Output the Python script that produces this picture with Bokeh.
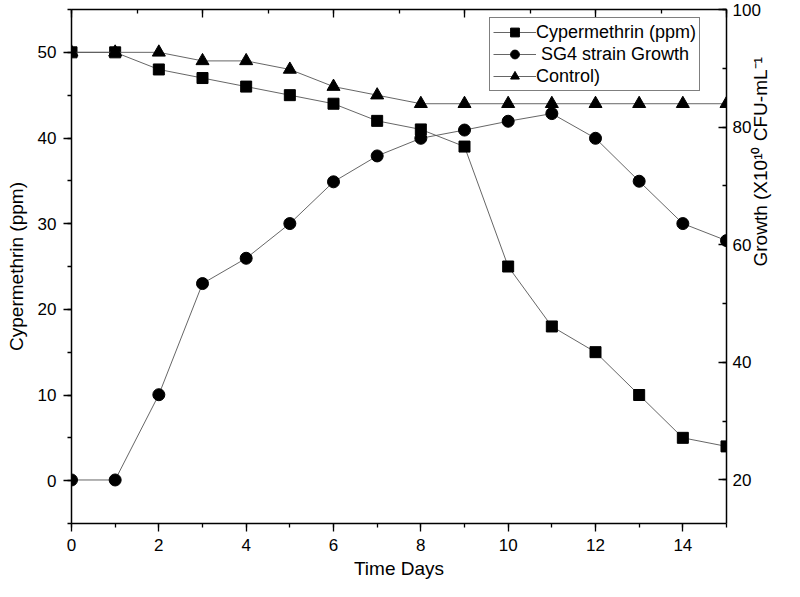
import math
from bokeh.plotting import figure
from bokeh.models import Range1d, LinearAxis, SingleIntervalTicker, Legend, LegendItem
from bokeh.embed import file_html
from bokeh.resources import INLINE

days = list(range(16))
cypermethrin = [50, 50, 48, 47, 46, 45, 44, 42, 41, 39, 25, 18, 15, 10, 5, 4]
control = [50, 50, 50, 49, 49, 48, 46, 45, 44, 44, 44, 44, 44, 44, 44, 44]
growth = [20, 20, 34.5, 53.4, 57.7, 63.6, 70.7, 75.1, 78.1, 79.5, 81.0, 82.3, 78.1, 70.8, 63.6, 60.7]

FONT = "Liberation Sans"

p = figure(width=784, height=581, output_backend="svg", toolbar_location=None,
           x_range=Range1d(0, 15), y_range=Range1d(-5, 55),
           min_border_left=71, min_border_right=0, min_border_top=9, min_border_bottom=0)
p.extra_y_ranges = {"growth": Range1d(12.6, 100)}
p.xgrid.visible = False
p.ygrid.visible = False
p.outline_line_color = None
p.background_fill_color = "white"
p.border_fill_color = "white"

def style_axis(ax, inward=False):
    ax.axis_line_color = "black"
    ax.axis_line_width = 1.5
    ax.major_tick_line_color = "black"
    ax.minor_tick_line_color = "black"
    ax.major_tick_line_width = 1.3
    ax.minor_tick_line_width = 1.3
    if inward:
        ax.major_tick_out = 0
        ax.major_tick_in = 8
        ax.minor_tick_out = 0
        ax.minor_tick_in = 4
    else:
        ax.major_tick_out = 8
        ax.major_tick_in = 0
        ax.minor_tick_out = 4
        ax.minor_tick_in = 0
    ax.major_label_text_font = FONT
    ax.major_label_text_font_size = "17px"
    ax.major_label_text_color = "black"
    ax.axis_label_text_font = FONT
    ax.axis_label_text_font_size = "19px"
    ax.axis_label_text_font_style = "normal"
    ax.axis_label_text_color = "black"
    ax.major_label_standoff = 7

xa = p.xaxis[0]
xa.ticker = SingleIntervalTicker(interval=2, num_minor_ticks=2)
xa.axis_label = "Time Days"
style_axis(xa)
xa.major_label_standoff = 7
xa.axis_label_standoff = 4

ya = p.yaxis[0]
ya.ticker = SingleIntervalTicker(interval=10, num_minor_ticks=2)
ya.axis_label = "Cypermethrin (ppm)"
style_axis(ya)
ya.axis_label_standoff = 8

ra = LinearAxis(y_range_name="growth", ticker=SingleIntervalTicker(interval=20, num_minor_ticks=2),
                axis_label="Growth (X10\u00b9\u2070 CFU-mL\u207b\u00b9")
style_axis(ra, inward=True)
ra.major_label_standoff = 6
ra.axis_label_standoff = -3
ra.axis_label_orientation = math.pi / 2
p.add_layout(ra, "right")

ta = LinearAxis(ticker=SingleIntervalTicker(interval=3, num_minor_ticks=2))
style_axis(ta, inward=True)
ta.major_label_text_font_size = "0px"
ta.major_label_text_alpha = 0
ta.major_label_standoff = 0
p.add_layout(ta, "above")

LINE = "#555555"
l1 = p.line(days, cypermethrin, line_color=LINE, line_width=0.9)
m1 = p.scatter(days, cypermethrin, marker="square", size=11, fill_color="black", line_color="black")
l2 = p.line(days, growth, line_color=LINE, line_width=0.9, y_range_name="growth")
m2 = p.scatter(days, growth, marker="circle", size=12, fill_color="black", line_color="black", y_range_name="growth")
l3 = p.line(days, control, line_color=LINE, line_width=0.9)
m3 = p.scatter(days, control, marker="triangle", size=13, fill_color="black", line_color="black")

legend = Legend(items=[
    LegendItem(label="Cypermethrin (ppm)", renderers=[l1, m1]),
    LegendItem(label=" SG4 strain Growth", renderers=[l2, m2]),
    LegendItem(label="Control)", renderers=[l3, m3]),
], location=(418, 432))
legend.label_text_font = FONT
legend.label_text_font_size = "18px"
legend.label_text_color = "black"
legend.glyph_width = 43
legend.glyph_height = 22
legend.label_height = 22
legend.label_standoff = 0
legend.spacing = 0
legend.padding = 3
legend.margin = 0
legend.border_line_color = "black"
legend.border_line_width = 1
legend.background_fill_alpha = 1
p.add_layout(legend, "center")

open("out.html", "w").write(file_html(p, INLINE))
